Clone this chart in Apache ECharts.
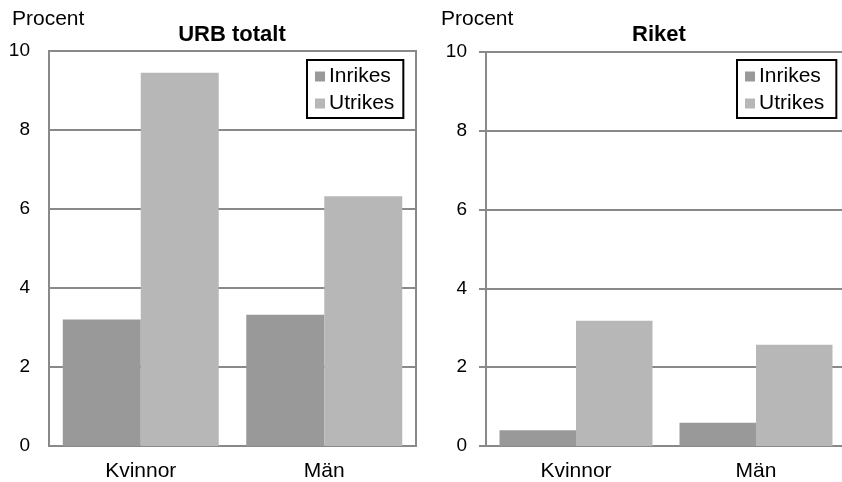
<!DOCTYPE html>
<html>
<head>
<meta charset="utf-8">
<script src="https://cdn.jsdelivr.net/npm/echarts@6/dist/echarts.min.js"></script>
<style>
html,body{margin:0;padding:0;background:#fff;overflow:hidden;}
#c{width:852px;height:482px;}
</style>
</head>
<body>
<div id="c"></div>
<script>
const categories = ['Kvinnor', 'Män'];
const seriesNames = ['Inrikes', 'Utrikes'];
const urbInrikes = [3.2, 3.32];
const urbUtrikes = [9.45, 6.32];
const riketInrikes = [0.40, 0.59];
const riketUtrikes = [3.18, 2.57];
const panelTitles = ['URB totalt', 'Riket'];
const yTicks = [0, 2, 4, 6, 8, 10];

const FONT = '"Liberation Sans", Arial, sans-serif';
const GRAY = '#898989';
const COLORS = ['#999999', '#b7b7b7'];

const chart = echarts.init(document.getElementById('c'), null, {renderer: 'canvas'});

function yAxis(gridIndex, withTicks) {
  return {
    type: 'value', gridIndex, min: yTicks[0], max: yTicks[yTicks.length - 1], interval: 2,
    axisLine: {show: true, lineStyle: {color: GRAY, width: 2}},
    axisTick: {show: withTicks, length: 7, lineStyle: {color: GRAY, width: 2}},
    splitLine: {show: true, lineStyle: {color: GRAY, width: 2}},
    axisLabel: {color: '#000', fontFamily: FONT, fontSize: 19, margin: 19}
  };
}
function xAxis(gridIndex) {
  return {
    type: 'category', gridIndex, data: categories,
    axisLine: {show: true, lineStyle: {color: GRAY, width: 2}},
    axisTick: {show: false},
    axisLabel: {color: '#000', fontFamily: FONT, fontSize: 21, margin: 15}
  };
}
function bar(name, data, idx, colorIdx) {
  return {
    type: 'bar', name, data, xAxisIndex: idx, yAxisIndex: idx,
    barGap: '0%', barCategoryGap: '15%',
    itemStyle: {color: COLORS[colorIdx]},
    emphasis: {disabled: true}, animation: false
  };
}
function legend(left, padRight) {
  return {
    show: true, orient: 'vertical', left, top: 60,
    data: seriesNames.map(n => ({name: n})),
    borderColor: '#000', borderWidth: 2, backgroundColor: '#fff',
    padding: [6, padRight, 4, 8], itemGap: 6, itemWidth: 10, itemHeight: 10, icon: 'rect',
    textStyle: {color: '#000', fontFamily: FONT, fontSize: 21, padding: [0, 0, 0, -1]},
    selectedMode: false
  };
}
function titleText(text, left, top, size, bold, center) {
  return {
    text, left, top, padding: 0, textAlign: center ? 'center' : 'left',
    textStyle: {fontFamily: FONT, fontSize: size, fontWeight: bold ? 'bold' : 'normal', color: '#000'}
  };
}

chart.setOption({
  animation: false,
  grid: [
    {left: 49, top: 51, width: 367, height: 396.5, show: true, borderColor: GRAY, borderWidth: 2, backgroundColor: 'transparent'},
    {left: 486, top: 52, width: 360, height: 397}
  ],
  title: [
    titleText(panelTitles[0], 232, 24, 22, true, true),
    titleText(panelTitles[1], 659, 24, 22, true, true),
    titleText('Procent', 12, 9, 21, false, false),
    titleText('Procent', 441, 9, 21, false, false)
  ],
  legend: [legend(307, 9), legend(737, 12)],
  xAxis: [xAxis(0), xAxis(1)],
  yAxis: [yAxis(0, false), yAxis(1, true)],
  series: [
    bar(seriesNames[0], urbInrikes, 0, 0),
    bar(seriesNames[1], urbUtrikes, 0, 1),
    bar(seriesNames[0], riketInrikes, 1, 0),
    bar(seriesNames[1], riketUtrikes, 1, 1)
  ]
});
</script>
</body>
</html>
